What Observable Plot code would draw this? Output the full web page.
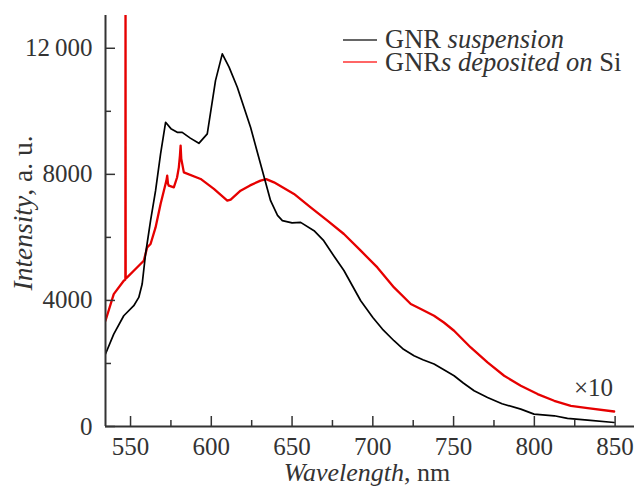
<!DOCTYPE html>
<html><head><meta charset="utf-8">
<script src="https://cdn.jsdelivr.net/npm/d3@7"></script>
<script src="https://cdn.jsdelivr.net/npm/@observablehq/plot@0.6"></script>
<style>body{margin:0;background:#fff}#chart{width:634px;height:488px}</style>
</head><body><div id="chart"></div>
<script>
// GNR suspension (black)
const blackWl = [534.5,539.6,545.8,552,555.1,557.2,559.3,562.4,565.5,568.6,571.7,575,578.9,582,587,592.3,597.5,602.6,606.8,611,616.1,624.3,630.5,636.7,641,644,650,655.3,663.6,669.6,676,682.1,692.5,700,705.9,713.1,719,725.5,731,737.9,744,750.3,756,762.7,771,780,791.6,799.8,812.3,820.5,833,849.4];
const blackI  = [2300,2933,3514,3832,4095,4520,5473,6530,7483,8648,9651,9450,9333,9333,9150,8984,9283,10975,11822,11400,10762,9492,8330,7165,6700,6530,6460,6476,6213,5895,5400,4950,3990,3460,3092,2721,2450,2244,2120,1981,1800,1610,1380,1133,921,720,552,394,340,260,203,127];
// GNRs deposited on Si (red, x10)
const redWl = [534.5,539.6,545.8,546.8,546.9,547.0,547.9,552,558.2,560.3,562.4,565.5,568.6,571.7,572.2,572.7,573.2,573.7,576.8,578.8,579.9,580.6,581.0,581.4,583,593.4,601.6,609.9,612,618.1,624,630.5,634,638.8,651.2,661.5,671.9,682.1,692.5,702.8,713.1,723.5,729.7,737.9,744,750.3,760.6,771,781.3,791.6,802,812.3,822.6,833,849.4];
const redI  = [3355,4200,4625,4660,15000,4700,4730,4943,5260,5683,5790,6317,7060,7700,7800,7959,7700,7641,7587,7900,8222,8600,8911,8500,8063,7854,7537,7165,7200,7483,7650,7800,7850,7746,7378,6952,6530,6108,5578,5048,4413,3886,3727,3514,3300,3038,2508,2032,1610,1292,1029,816,657,584,476];

const xMajor = [550,600,650,700,750,800,850];
const xMinor = [575,625,675,725,775,825];
const yMajor = [0,4000,8000,12000];
const yMajorLabels = ["0","4000","8000","12\u2009000"];
const yMinor = [2000,6000,10000];
const xDomain = [534.5, 862];
const yDomain = [0, 13040];

const blackData = blackWl.map((w,i)=>({w, v: blackI[i]}));
const redData = redWl.map((w,i)=>({w, v: redI[i]}));

const FONT = "'Liberation Serif', 'Times New Roman', serif";
const TXT = "#333";

const chart = Plot.plot({
  width: 634, height: 488,
  marginLeft: 105, marginRight: 0, marginTop: 15, marginBottom: 62,
  x: {domain: xDomain},
  y: {domain: yDomain},
  style: {fontFamily: FONT, fontSize: "25px", color: TXT, background: "#fff", overflow: "visible"},
  marks: [
    Plot.line(redData, {x: "w", y: "v", stroke: "#e60000", strokeWidth: 2.3, clip: true}),
    Plot.line(blackData, {x: "w", y: "v", stroke: "#000", strokeWidth: 1.7, clip: true}),
    Plot.ruleX([xDomain[0]], {stroke: "#333", strokeWidth: 2}),
    Plot.ruleY([yDomain[0]], {stroke: "#333", strokeWidth: 2}),
    Plot.axisX({ticks: xMajor, tickSize: -10, tickPadding: 21, tickFormat: d => String(d), label: null, fontSize: 25, stroke: "#333", strokeWidth: 1.5}),
    Plot.axisX({ticks: xMinor, tickSize: -6, tickFormat: () => "", label: null, stroke: "#333", strokeWidth: 1.5}),
    Plot.axisY({ticks: yMajor, tickSize: -10, tickPadding: 23, tickFormat: d => yMajorLabels[yMajor.indexOf(d)], label: null, fontSize: 25, stroke: "#333", strokeWidth: 1.5}),
    Plot.axisY({ticks: yMinor, tickSize: -6, tickFormat: () => "", label: null, stroke: "#333", strokeWidth: 1.5})
  ]
});
document.getElementById("chart").appendChild(chart);

const svg = d3.select(chart);
function addText(x, y, parts, opts = {}) {
  const t = svg.append("text")
    .attr("x", x).attr("y", y)
    .attr("font-family", FONT).attr("font-size", opts.size || 26.5).attr("fill", TXT)
    .attr("text-anchor", opts.anchor || "start");
  if (opts.transform) t.attr("transform", opts.transform);
  parts.forEach(([s, it, px, py]) => {
    const sp = t.append("tspan").attr("font-style", it ? "italic" : "normal").text(s);
    if (px != null) sp.attr("x", px);
    if (py != null) sp.attr("y", py);
  });
  return t;
}
// axis labels
addText(367, 481, [["Wavelength", true], [", nm", false]], {anchor: "middle", size: 26});
addText(0, 0, [["Intensity", true], [", a. u.", false]], {anchor: "middle", size: 27.5, transform: "translate(32,213) rotate(-90)"});
// legend
svg.append("line").attr("x1", 343).attr("x2", 377).attr("y1", 40).attr("y2", 40).attr("stroke", "#333").attr("stroke-width", 1.5);
svg.append("line").attr("x1", 343).attr("x2", 377).attr("y1", 62).attr("y2", 62).attr("stroke", "#f33").attr("stroke-width", 1.5);
addText(385, 48, [
  ["GNR ", false, 385, 48], ["suspension", true],
  ["GNR", false, 385, 71], ["s deposited on", true], [" Si", false]
]);
// scale annotation
addText(613, 396, [["\u00d710", false]], {anchor: "end", size: 25});
</script>
</body></html>
